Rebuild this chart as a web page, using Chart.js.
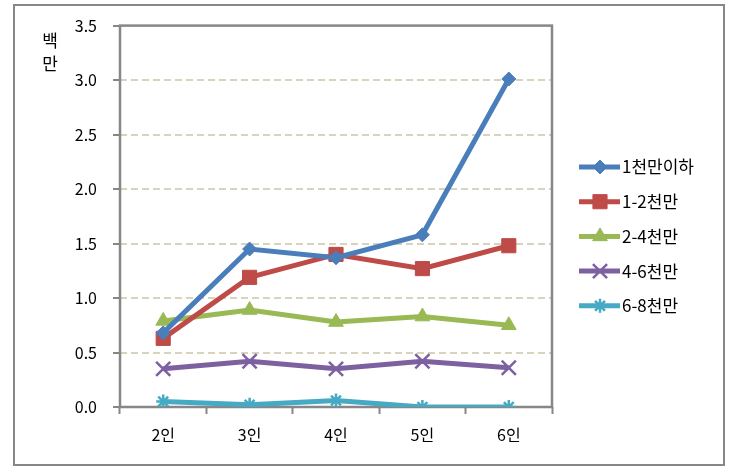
<!DOCTYPE html>
<html><head><meta charset="utf-8">
<script src="https://cdn.jsdelivr.net/npm/chart.js@4"></script>
<style>html,body{margin:0;padding:0;background:#fff}#wrap{width:734px;height:476px;position:relative}</style>
</head><body><div id="wrap"><canvas id="c" width="734" height="476"></canvas></div>
<script>
const categories = ['2인','3인','4인','5인','6인'];
const seriesNames = ['1천만이하','1-2천만','2-4천만','4-6천만','6-8천만'];
const s1 = [0.68, 1.45, 1.37, 1.58, 3.01];
const s2 = [0.63, 1.19, 1.40, 1.27, 1.48];
const s3 = [0.79, 0.89, 0.78, 0.83, 0.75];
const s4 = [0.35, 0.42, 0.35, 0.42, 0.36];
const s5 = [0.05, 0.02, 0.06, 0.00, 0.00];
const yTicks = [0,0.5,1.0,1.5,2.0,2.5,3.0,3.5];
const yTitle = ['백','만'];

const colors = ['#4a7ebb','#be4b48','#98b954','#7d60a0','#46aac5'];
const styles = ['rectRot','rect','triangle','crossRot','star'];
const radii = [7,10,8.5,10,7];
const FONT = '"Noto Sans CJK KR", "Noto Sans", sans-serif';

const datasets = [s1,s2,s3,s4,s5].map((d,i)=>({
  label: seriesNames[i], data: d,
  borderColor: colors[i], backgroundColor: colors[i],
  borderWidth: 5, pointStyle: styles[i], pointRadius: radii[i],
  pointBorderColor: colors[i], pointBackgroundColor: colors[i],
  pointBorderWidth: (styles[i]==='crossRot'||styles[i]==='star') ? 2.5 : 1,
  tension: 0
}));

const framePlugin = {
  id: 'frame',
  beforeDatasetsDraw(chart){
    const {ctx, chartArea:a} = chart;
    ctx.save();
    ctx.setLineDash([]);
    ctx.strokeStyle = '#878787'; ctx.lineWidth = 2.5;
    ctx.strokeRect(a.left, a.top, a.right-a.left, a.bottom-a.top);
    ctx.restore();
  },
  afterDraw(chart){
    const {ctx} = chart;
    ctx.save();
    ctx.setLineDash([]);
    ctx.strokeStyle = '#878787'; ctx.lineWidth = 2;
    ctx.strokeRect(14, 5, 710, 460);
    ctx.fillStyle = '#000'; ctx.font = '17px ' + FONT;
    ctx.textAlign = 'center'; ctx.textBaseline = 'middle';
    yTitle.forEach((t,i)=>ctx.fillText(t, 50, 41 + i*23));
    chart.data.datasets.forEach((ds,i)=>{
      const y = 167 + i*34.7;
      ctx.strokeStyle = ds.borderColor; ctx.lineWidth = 5;
      ctx.beginPath(); ctx.moveTo(579,y); ctx.lineTo(620,y); ctx.stroke();
      ctx.fillStyle = ds.borderColor; ctx.strokeStyle = ds.borderColor;
      ctx.lineWidth = ds.pointBorderWidth;
      Chart.helpers.drawPoint(ctx, {pointStyle: ds.pointStyle, radius: ds.pointRadius, borderWidth: ds.pointBorderWidth, rotation:0}, 600, y);
      ctx.fillStyle = '#000'; ctx.font = '17px ' + FONT;
      ctx.textAlign = 'left'; ctx.textBaseline = 'middle';
      ctx.fillText(ds.label, 622, y);
    });
    ctx.restore();
  }
};

new Chart(document.getElementById('c'), {
  type: 'line',
  data: { labels: categories, datasets },
  options: {
    responsive: false, animation: false, devicePixelRatio: 1,
    layout: { padding: { left: 0, top: 23, right: 182, bottom: 0 } },
    plugins: { legend: { display: false }, tooltip: { enabled: false } },
    scales: {
      x: {
        offset: true,
        grid: { offset: true, drawOnChartArea: false, drawTicks: true, tickLength: 7, tickColor: '#878787', tickWidth: 2 },
        border: { display: false },
        ticks: { color: '#000', font: { family: FONT, size: 16 }, padding: 11, maxRotation: 0 },
        afterFit(s){ s.height = 69; }
      },
      y: {
        min: 0, max: 3.5,
        afterBuildTicks(s){ s.ticks = yTicks.map(v=>({value:v})); },
        grid: {
          color: ctx => (ctx.tick && (ctx.tick.value === 0 || ctx.tick.value === 3.5)) ? 'rgba(0,0,0,0)' : '#d8d3bd',
          lineWidth: 2, drawTicks: true, tickLength: 7, tickColor: '#878787', tickWidth: 2
        },
        border: { display: false, dash: [7,4] },
        ticks: { color: '#000', font: { family: FONT, size: 16 }, padding: 16, callback: v => Number(v).toFixed(1) },
        afterFit(s){ s.width = 120; }
      }
    }
  },
  plugins: [framePlugin]
});
</script></body></html>
